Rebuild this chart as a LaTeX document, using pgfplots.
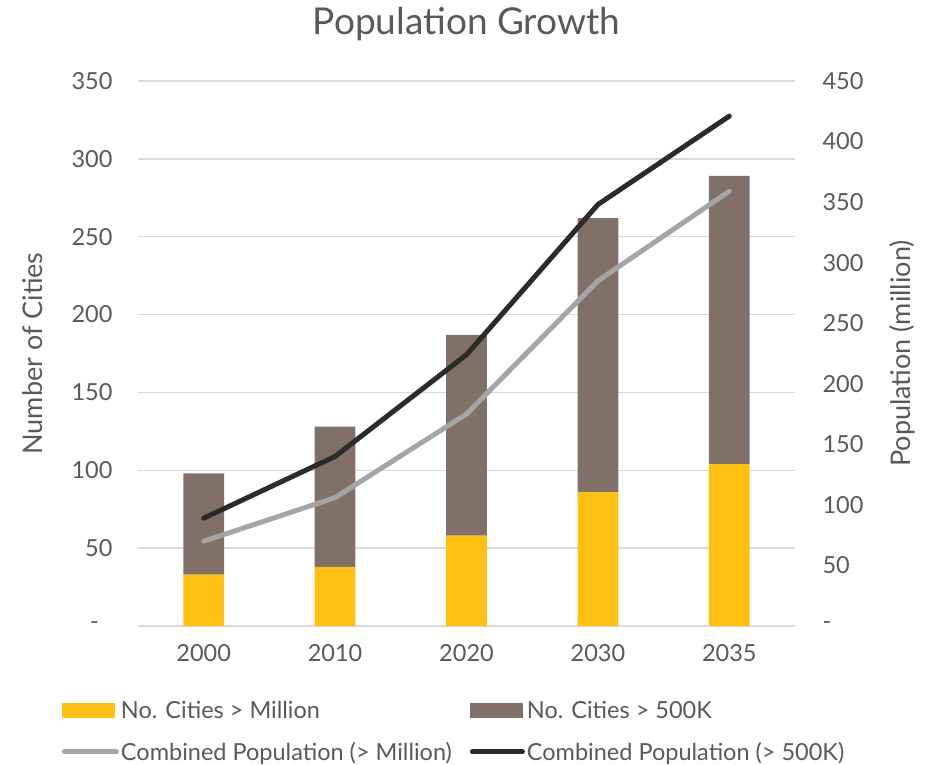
\documentclass[border=0pt]{standalone}
\usepackage{pgfplots}
\pgfplotsset{compat=1.18}
\usepackage{fontspec}
\setmainfont{Lato}
\definecolor{txt}{HTML}{595959}
\definecolor{gridc}{HTML}{D9D9D9}
\definecolor{yel}{HTML}{FDC013}
\definecolor{brn}{HTML}{807067}
\definecolor{grl}{HTML}{A5A5A5}
\definecolor{bkl}{HTML}{2B2B2B}
\begin{document}
\begin{tikzpicture}
\begin{axis}[
 scale only axis, width=657bp, height=545bp,
 xmin=-0.5, xmax=4.5, ymin=0, ymax=350,
 ybar stacked, bar width=0.31,
 xtick={0,1,2,3,4}, xticklabels={2000,2010,2020,2030,2035},
 ytick={0,50,...,350}, yticklabels={-\hphantom{0},50,100,150,200,250,300,350},
 ymajorgrids, grid style={gridc, line width=1.3bp},
 axis line style={draw=none}, major tick length=0,
 tick label style={font=\fontsize{23.5bp}{27bp}\selectfont, text=txt},
 yticklabel shift=22bp, xticklabel shift=15bp,
 ylabel={Number of Cities},
 ylabel style={at={(axis description cs:-0.16,0.5)}, anchor=center, font=\fontsize{27bp}{31bp}\selectfont, text=txt},
 title={Population Growth},
 title style={at={(axis description cs:0.5,1.093)}, anchor=center, font=\fontsize{37bp}{42bp}\selectfont, text=txt},
]
\addplot[fill=yel, draw=none] coordinates {(0,33)(1,38)(2,58)(3,86)(4,104)};
\addplot[fill=brn, draw=none] coordinates {(0,65)(1,90)(2,129)(3,176)(4,185)};
\end{axis}
\begin{axis}[
 scale only axis, width=657bp, height=545bp,
 xmin=-0.5, xmax=4.5, ymin=0, ymax=450,
 axis y line*=right, axis x line=none,
 axis line style={draw=none}, major tick length=0,
 ytick={0,50,...,450}, yticklabels={-,50,100,150,200,250,300,350,400,450},
 yticklabel style={anchor=west},
 tick label style={font=\fontsize{23.5bp}{27bp}\selectfont, text=txt},
 yticklabel shift=24bp,
 ylabel={Population (million)},
 ylabel style={at={(axis description cs:1.164,0.5)}, anchor=center, rotate=0, font=\fontsize{27bp}{31bp}\selectfont, text=txt},
 legend columns=2, legend cell align=left,
 legend style={at={(axis description cs:-0.116,-0.134)}, anchor=north west, draw=none, fill=none,
   font=\fontsize{23.5bp}{27bp}\selectfont, text=txt, inner sep=0pt, row sep=18bp,
   nodes={inner sep=2bp},
   /tikz/every even column/.append style={column sep=16bp}},
]
\addlegendimage{legend image code/.code={\fill[yel] (0bp,-7bp) rectangle (52bp,7bp);}}
\addlegendentry{No. Cities > Million}
\addlegendimage{legend image code/.code={\fill[brn] (0bp,-7bp) rectangle (52bp,7bp);}}
\addlegendentry{No. Cities > 500K}
\addplot[grl, line width=5bp, line cap=round, line join=round,
  legend image code/.code={\draw[grl, line width=5bp, line cap=round] (2bp,0bp) -- (54bp,0bp);}]
  coordinates {(0,70)(1,106)(2,175)(3,285)(4,359)};
\addlegendentry{Combined Population (> Million)}
\addplot[bkl, line width=5bp, line cap=round, line join=round,
  legend image code/.code={\draw[bkl, line width=5bp, line cap=round] (2bp,0bp) -- (52bp,0bp);}]
  coordinates {(0,89)(1,140)(2,224)(3,348)(4,421)};
\addlegendentry{Combined Population (> 500K)}
\end{axis}
\pgfresetboundingbox
\useasboundingbox (-138bp,-139bp) rectangle (790bp,626bp);
\end{tikzpicture}
\end{document}
